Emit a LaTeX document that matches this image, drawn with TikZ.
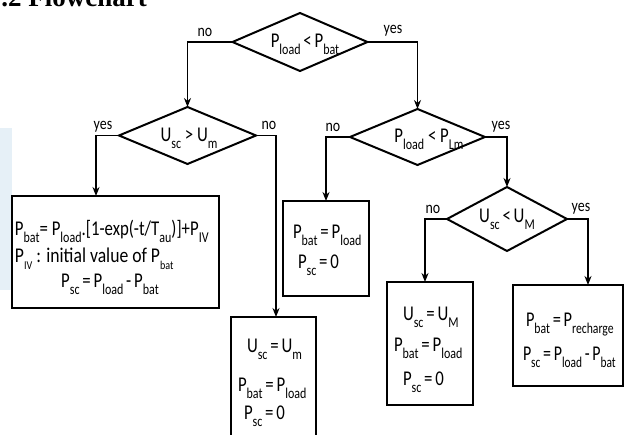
\documentclass[tikz,border=0pt]{standalone}
\usepackage{fontspec}
\setmainfont{Carlito}
\newfontfamily\titlefont{Liberation Serif}
\usepackage{graphicx}
\usetikzlibrary{arrows.meta,shapes.geometric}
\newcommand\sbs[1]{\raisebox{-0.3em}{\fontsize{15}{15}\selectfont #1}}
\newcommand\ssbs[1]{\raisebox{-0.3em}{\fontsize{12}{12}\selectfont #1}}
\newcommand\sq[2][0.8]{\scalebox{#1}[1]{#2}}
\definecolor{paleblue}{RGB}{230,240,247}
\begin{document}
\begin{tikzpicture}[x=1pt,y=-1pt,
  dec/.style={draw, diamond, line width=2pt, inner sep=0pt, outer sep=0pt},
  box/.style={draw, rectangle, line width=2.2pt, inner sep=0pt, outer sep=0pt},
  txt/.style={inner sep=0pt, outer sep=0pt, font=\fontsize{21}{24}\selectfont},
  lbl/.style={inner sep=0pt, anchor=base, font=\fontsize{17}{20}\selectfont},
  flow/.style={line width=1.9pt, -{Stealth[length=9pt,width=7pt]}},
]
\useasboundingbox (0,0) rectangle (625,435);
\clip (0,0) rectangle (625,435);
\fill[paleblue] (0,128) rectangle (12,290);
\node[anchor=base east, inner sep=0pt, font=\titlefont\bfseries\fontsize{27}{30}\selectfont] (title) at (147,7) {.2 Flowchart};

% decisions
\node[dec, minimum width=135pt, minimum height=58pt] (d1) at (300,42) {};
\node[dec, minimum width=137pt, minimum height=57pt] (d2) at (187.5,135.5) {};
\node[dec, minimum width=135pt, minimum height=56pt] (d3) at (417.5,137) {};
\node[dec, minimum width=120pt, minimum height=64pt] (d4) at (507,219) {};

% boxes
\node[box, minimum width=207pt, minimum height=112pt] (b1) at (115.5,252) {};
\node[box, minimum width=86pt, minimum height=95pt] (b3) at (326,248.5) {};
\node[box, minimum width=85pt, minimum height=143pt] (bum) at (273.5,388.5) {};
\node[box, minimum width=86pt, minimum height=123pt] (b4) at (430,343.5) {};
\node[box, minimum width=110pt, minimum height=101pt] (b5) at (568,335.5) {};

% connectors
\draw[flow] (d1.west) -| (d2.north);
\draw[flow] (d1.east) -| (d3.north);
\draw[flow] (d2.west) -| ([xshift=-19.5pt]b1.north);
\draw[flow] (d2.east) -| ([xshift=2.5pt]bum.north);
\draw[flow] (d3.west) -| (b3.north);
\draw[flow] (d3.east) -| (d4.north);
\draw[flow] (d4.west) -| ([xshift=-5pt]b4.north);
\draw[flow] (d4.east) -| ([xshift=20pt]b5.north);

% branch labels
\node[lbl] (l1) at (205,37) {\sq[0.82]{no}};
\node[lbl] (l2) at (393,34) {\sq[0.82]{yes}};
\node[lbl] (l3) at (103,130) {\sq[0.82]{yes}};
\node[lbl] (l4) at (269,130) {\sq[0.82]{no}};
\node[lbl] (l5) at (333,132) {\sq[0.82]{no}};
\node[lbl] (l6) at (501,130) {\sq[0.82]{yes}};
\node[lbl] (l7) at (433,214) {\sq[0.82]{no}};
\node[lbl] (l8) at (581,212) {\sq[0.82]{yes}};

% decision texts
\node[txt, anchor=base] (t1) at (305,48) {\sq{P\sbs{load}\,<\,P\sbs{bat}}};
\node[txt, anchor=base] (t2) at (189,142) {\sq{U\sbs{sc} > U\sbs{m}}};
\node[txt, anchor=base] (t3) at (429,143) {\sq{P\sbs{load} < P\sbs{Lm}}};
\node[txt, anchor=base] (t4) at (507,223) {\sq{U\sbs{sc}\,<\,U\sbs{M}}};

% box texts
\node[txt, anchor=base west] (b1a) at (15,236) {\sq[0.8]{P\sbs{bat}= P\sbs{load}.[1-exp(-t/T\sbs{au})]+P\sbs{IV}}};
\node[txt, anchor=base west] (b1b) at (15,263) {\sq[0.84]{P\ssbs{IV} : initial value of P\ssbs{bat}}};
\node[txt, anchor=base] (b1c) at (110,288) {\sq{P\sbs{sc}\,=\,P\sbs{load}\,-\,P\sbs{bat}}};

\node[txt, anchor=base west] (b3a) at (293,239) {\sq{P\sbs{bat}\,=\,P\sbs{load}}};
\node[txt, anchor=base west] (b3b) at (298,269) {\sq{P\sbs{sc}\,=\,0}};

\node[txt, anchor=base west] (bma) at (247,353) {\sq{U\sbs{sc}\,=\,U\sbs{m}}};
\node[txt, anchor=base west] (bmb) at (238,392) {\sq{P\sbs{bat}\,=\,P\sbs{load}}};
\node[txt, anchor=base west] (bmc) at (244,420) {\sq{P\sbs{sc}\,=\,0}};

\node[txt, anchor=base west] (b4a) at (403,321) {\sq{U\sbs{sc}\,=\,U\sbs{M}}};
\node[txt, anchor=base west] (b4b) at (394,352) {\sq{P\sbs{bat}\,=\,P\sbs{load}}};
\node[txt, anchor=base west] (b4c) at (403,386) {\sq{P\sbs{sc}\,=\,0}};

\node[txt, anchor=base west] (b5a) at (526,327) {\sq[0.78]{P\sbs{bat}\,=\,P\sbs{recharge}}};
\node[txt, anchor=base west] (b5b) at (523,361) {\sq[0.76]{P\sbs{sc}\,=\,P\sbs{load}\,-\,P\sbs{bat}}};
\end{tikzpicture}
\end{document}
